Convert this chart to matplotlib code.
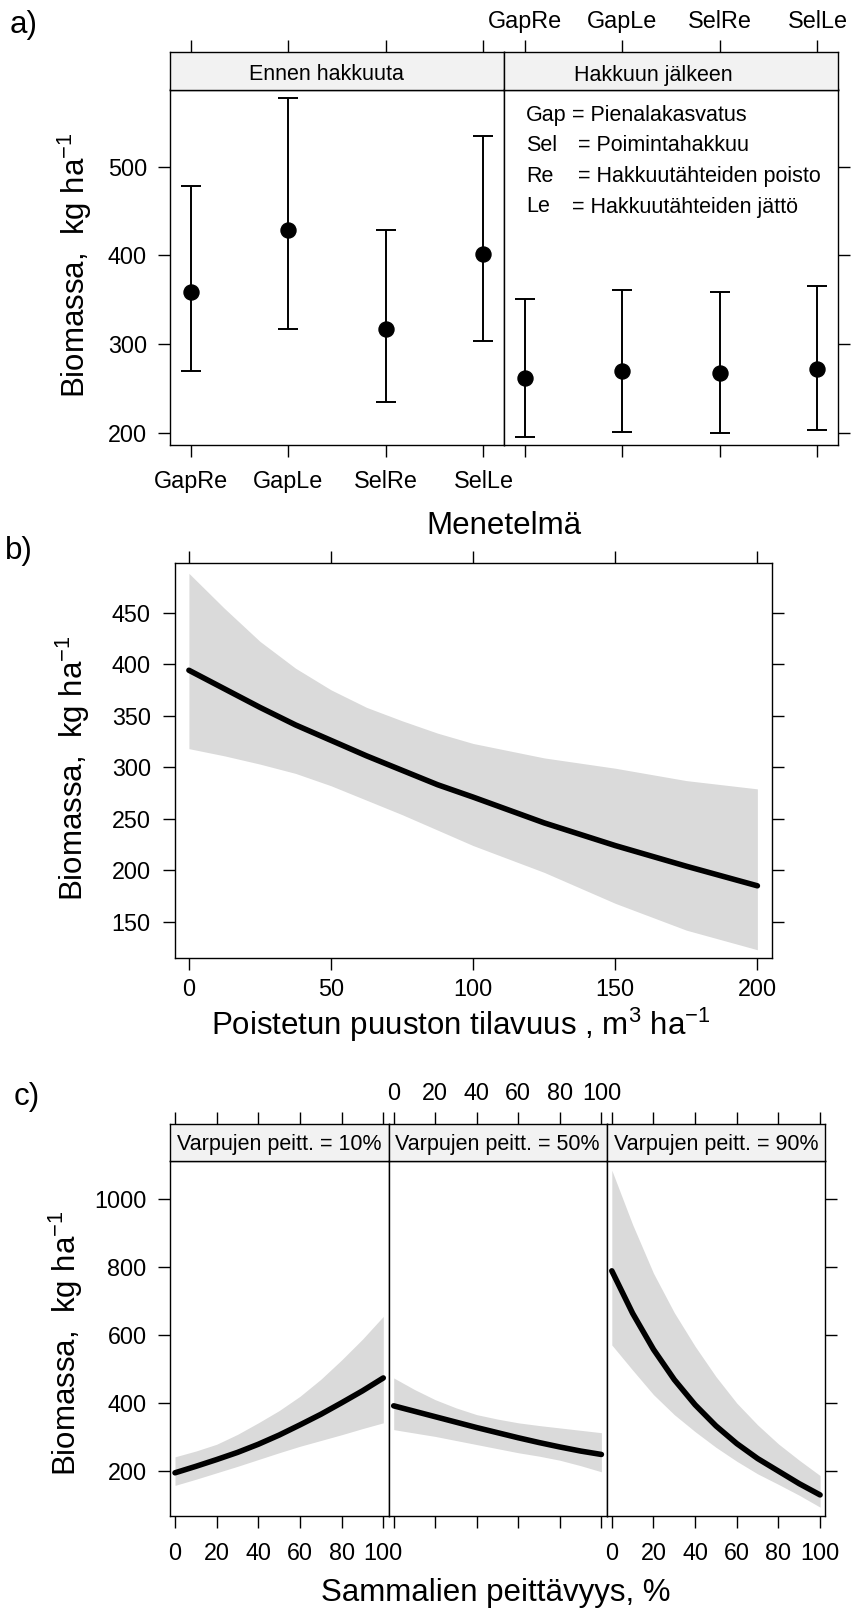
import matplotlib
matplotlib.use("Agg")
import matplotlib.pyplot as plt

plt.rcParams["font.family"] = ["Liberation Sans", "DejaVu Sans"]
plt.rcParams["mathtext.fontset"] = "custom"
plt.rcParams["mathtext.rm"] = "Liberation Sans"
plt.rcParams["mathtext.it"] = "Liberation Sans:italic"
plt.rcParams["axes.linewidth"] = 1.0

W, H = 851, 1612
BAND, STRIP = "#dadada", "#f2f2f2"
TICK = dict(direction="out", length=8.6, width=1.0, colors="black")
TS, LS, SS = 16.8, 22.5, 15.5   # tick, axis-title, strip font sizes

# ---- a) biomass by method, before / after cutting
methods = ["GapRe", "GapLe", "SelRe", "SelLe"]
periods = ["Ennen hakkuuta", "Hakkuun jälkeen"]
fit_before = [359, 428, 317, 402]
low_before = [269, 317, 234, 303]
high_before = [478, 577, 428, 535]
fit_after = [262, 269, 267, 272]
low_after = [195, 201, 199, 203]
high_after = [351, 361, 359, 365]
abbr = ["Gap", "Sel", "Re", "Le"]
meaning = ["Pienalakasvatus", "Poimintahakkuu",
           "Hakkuutähteiden poisto", "Hakkuutähteiden jättö"]

# ---- b) removed stand volume
vol = [0, 12.5, 25, 37.5, 50, 62.5, 75, 87.5, 100, 125, 150, 175, 200]
vol_fit = [394, 376, 358, 341, 326, 311, 297, 283, 271, 246, 224, 204, 185]
vol_up = [488, 454, 422, 396, 375, 358, 345, 333, 323, 309, 299, 287, 279]
vol_lo = [318, 311, 303, 294, 282, 268, 254, 239, 224, 198, 168, 142, 123]

# ---- c) moss cover, by dwarf shrub cover
moss = [0, 10, 20, 30, 40, 50, 60, 70, 80, 90, 100]
shrub_labels = ["Varpujen peitt. = 10%", "Varpujen peitt. = 50%",
                "Varpujen peitt. = 90%"]
fit_10 = [195, 214, 234, 255, 279, 306, 336, 367, 401, 436, 474]
up_10 = [242, 259, 279, 308, 342, 378, 420, 470, 527, 588, 655]
lo_10 = [158, 176, 195, 214, 234, 254, 273, 290, 307, 325, 342]
fit_50 = [392, 376, 360, 344, 328, 313, 298, 284, 271, 259, 249]
up_50 = [474, 440, 410, 386, 366, 353, 342, 334, 327, 320, 313]
lo_50 = [322, 312, 302, 290, 278, 266, 254, 244, 232, 216, 198]
fit_90 = [789, 664, 558, 469, 395, 333, 281, 237, 200, 163, 130]
up_90 = [1085, 925, 782, 666, 567, 478, 400, 336, 280, 232, 187]
lo_90 = [571, 497, 425, 366, 316, 270, 229, 192, 161, 129, 94]

fig = plt.figure(figsize=(W / 100, H / 100), dpi=100)


def px_axes(x0, y0, x1, y1):
    return fig.add_axes([x0 / W, 1 - y1 / H, (x1 - x0) / W, (y1 - y0) / H])


def ftext(x, y, s, **kw):
    return fig.text(x / W, 1 - y / H, s, **kw)


def strip(x0, y0, x1, y1, xlim, ticks, labels, labeltop, pad):
    st = px_axes(x0, y0, x1, y1)
    st.set_facecolor(STRIP)
    st.set_xlim(xlim)
    st.set_ylim(0, 1)
    st.set_yticks([])
    st.set_xticks(ticks)
    st.set_xticklabels(labels)
    st.tick_params(axis="x", bottom=False, labelbottom=False, top=True,
                   labeltop=labeltop, labelsize=TS, pad=pad, **TICK)
    return st


# ================= a) =================
ylab = "Biomassa,  kg ha$^{-1}$"
xa = (0.79, 4.21)
pos = [1, 2, 3, 4]
a_x = [(170, 504), (504, 838)]
a_data = [(fit_before, low_before, high_before), (fit_after, low_after, high_after)]
for i, (fit, lo, hi) in enumerate(a_data):
    x0, x1 = a_x[i]
    ax = px_axes(x0, 89.5, x1, 445)
    yerr = [[f - l for f, l in zip(fit, lo)], [h - f for f, h in zip(fit, hi)]]
    ax.errorbar(pos, fit, yerr=yerr, fmt="o", color="black", ms=10.8,
                elinewidth=1.4, capsize=7.2, capthick=1.4)
    ax.plot(pos, fit, "o", color="white", ms=1.8)
    ax.set_xlim(xa)
    ax.set_ylim(186, 587)
    ax.set_xticks(pos)
    ax.set_xticklabels(methods)
    ax.set_yticks([200, 300, 400, 500])
    ax.tick_params(axis="x", top=False, labelbottom=(i == 0), labelsize=TS,
                   pad=9.4, **TICK)
    ax.tick_params(axis="y", left=(i == 0), labelleft=(i == 0), right=(i == 1),
                   labelsize=TS, pad=7.9, **TICK)
    strip(x0, 52, x1, 89.5, xa, pos, methods, i == 1, 5.4)
ftext(326, 80.5, periods[0], fontsize=SS, ha="center", va="baseline")
ftext(653, 80.5, periods[1], fontsize=SS, ha="center", va="baseline")
leg_x = [572, 578, 578, 572]
for k, (ab, mn) in enumerate(zip(abbr, meaning)):
    yb = 120.7 + 30.6 * k
    ftext(526, yb, ab, fontsize=SS, va="baseline")
    ftext(leg_x[k], yb, "= " + mn, fontsize=SS, va="baseline")
ftext(75, 265, ylab, fontsize=LS, rotation=90, ha="center", va="center")
ftext(504, 534, "Menetelmä", fontsize=LS, ha="center", va="baseline")
ftext(10, 25, "a)", fontsize=LS, ha="left", va="center")

# ================= b) =================
axb = px_axes(174.7, 563, 771.6, 958)
axb.fill_between(vol, vol_lo, vol_up, color=BAND, lw=0)
axb.plot(vol, vol_fit, color="black", lw=4.0, solid_capstyle="round",
         solid_joinstyle="round")
axb.set_xlim(-5, 205)
axb.set_ylim(115, 498)
axb.set_xticks([0, 50, 100, 150, 200])
axb.set_yticks([150, 200, 250, 300, 350, 400, 450])
axb.tick_params(axis="x", top=True, labelsize=TS, pad=6, **TICK)
axb.tick_params(axis="y", right=True, labelsize=TS, pad=8.6, **TICK)
ftext(73, 768, ylab, fontsize=LS, rotation=90, ha="center", va="center")
ftext(461, 1035, "Poistetun puuston tilavuus , m$^3$ ha$^{-1}$", fontsize=LS,
      ha="center", va="baseline")
ftext(5, 551, "b)", fontsize=LS, ha="left", va="center")

# ================= c) =================
xc = (-2.5, 102.5)
mticks = [0, 20, 40, 60, 80, 100]
c_x = [(169.8, 388.5), (388.5, 606.6), (606.6, 825.3)]
c_data = [(fit_10, lo_10, up_10), (fit_50, lo_50, up_50), (fit_90, lo_90, up_90)]
for i, (fit, lo, up) in enumerate(c_data):
    x0, x1 = c_x[i]
    ax = px_axes(x0, 1161, x1, 1516)
    ax.fill_between(moss, lo, up, color=BAND, lw=0)
    ax.plot(moss, fit, color="black", lw=4.0, solid_capstyle="round",
            solid_joinstyle="round")
    ax.set_xlim(xc)
    ax.set_ylim(68, 1112)
    ax.set_xticks(mticks)
    ax.set_yticks([200, 400, 600, 800, 1000])
    ax.tick_params(axis="x", top=False, labelbottom=(i != 1), labelsize=TS,
                   pad=10, **TICK)
    ax.tick_params(axis="y", left=(i == 0), labelleft=(i == 0), right=(i == 2),
                   labelsize=TS, pad=8.1, **TICK)
    strip(x0, 1123.5, x1, 1161, xc, mticks, [str(t) for t in mticks], i == 1, 5)
    ftext((x0 + x1) / 2, 1150, shrub_labels[i], fontsize=SS, ha="center",
          va="baseline")
ftext(66, 1343, ylab, fontsize=LS, rotation=90, ha="center", va="center")
ftext(496, 1601, "Sammalien peittävyys, %", fontsize=LS, ha="center",
      va="baseline")
ftext(14, 1097, "c)", fontsize=LS, ha="left", va="center")

fig.savefig("out.png", dpi=100, facecolor="white")
